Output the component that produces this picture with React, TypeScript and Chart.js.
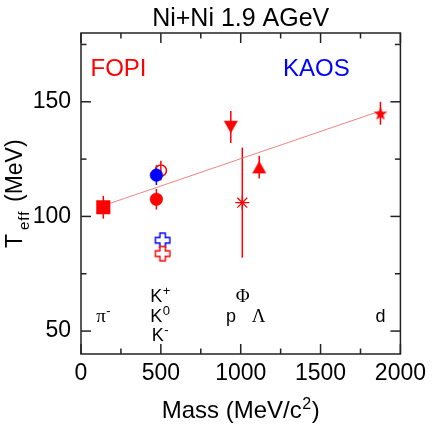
import { useEffect, useRef } from 'react';
import { Chart, registerables } from 'chart.js';

Chart.register(...registerables);

const FONT = "'Liberation Sans', Arial, Helvetica, sans-serif";
const SERIF = "'Liberation Serif', 'DejaVu Serif', serif";

// axis ticks
const xMajorTicks = [0, 500, 1000, 1500, 2000];
const xMinorTicks = [250, 750, 1250, 1750];
const yMajorTicks = [50, 100, 150];
const yMinorTicks = [75, 125, 175];

// FOPI
const piMass = [139.6];
const piT = [104];
const piErr = [5];
const kPlusFopiMass = [472];
const kPlusFopiT = [107.5];
const kPlusFopiErr = [4.5];
const k0FopiMass = [500];
const k0FopiT = [120];
const k0FopiErr = [4.3];
const kMinusFopiMass = [511];
const kMinusFopiT = [83.8];
const kMinusFopiErr = [3.4];
const protonMass = [938];
const protonT = [139];
const protonErr = [7];
const phiMass = [1010];
const phiT = [106];
const phiErr = [24];
const lambdaMass = [1116];
const lambdaT = [121.5];
const lambdaErr = [5];
const deuteronMass = [1875];
const deuteronT = [145];
const deuteronErr = [5];
// KAOS
const kPlusKaosMass = [472];
const kPlusKaosT = [118];
const kPlusKaosErr = [4.3];
const kMinusKaosMass = [511];
const kMinusKaosT = [89.6];
const kMinusKaosErr = [2];
// linear fit
const fitMass = [140, 1875];
const fitT = [104.7, 146];

// particle labels
const labelNames = ['π', 'K', 'K', 'K', 'Φ', 'p', 'Λ', 'd'];
const labelSups = ['-', '+', '0', '-', '', '', '', ''];
const labelGreek = [true, false, false, false, true, false, true, false];
const labelMass = [140, 496, 496, 496, 1012, 940, 1112, 1876];
const labelBaseT = [54.1, 62.8, 54.1, 45.5, 62.8, 54.1, 54.1, 54.1];

const RED = '#ff0000';
const BLUE = '#0000ff';

function pts(xs: number[], ys: number[]) {
  return xs.map((x, i) => ({ x, y: ys[i] }));
}

function makeCanvas(w: number, h: number, draw: (c: CanvasRenderingContext2D) => void) {
  const c = document.createElement('canvas');
  c.width = w;
  c.height = h;
  const ctx = c.getContext('2d')!;
  draw(ctx);
  return c;
}

function plusOutline(color: string) {
  return makeCanvas(18, 18, (ctx) => {
    const c = 9, a = 2.7, L = 7.3;
    ctx.beginPath();
    ctx.moveTo(c - a, c - L);
    ctx.lineTo(c + a, c - L);
    ctx.lineTo(c + a, c - a);
    ctx.lineTo(c + L, c - a);
    ctx.lineTo(c + L, c + a);
    ctx.lineTo(c + a, c + a);
    ctx.lineTo(c + a, c + L);
    ctx.lineTo(c - a, c + L);
    ctx.lineTo(c - a, c + a);
    ctx.lineTo(c - L, c + a);
    ctx.lineTo(c - L, c - a);
    ctx.lineTo(c - a, c - a);
    ctx.closePath();
    ctx.fillStyle = '#ffffff';
    ctx.fill();
    ctx.strokeStyle = color;
    ctx.lineWidth = 1.4;
    ctx.stroke();
  });
}

function triangle(color: string, down: boolean) {
  return makeCanvas(16, 14, (ctx) => {
    ctx.beginPath();
    if (down) {
      ctx.moveTo(1, 0.7);
      ctx.lineTo(15, 0.7);
      ctx.lineTo(8, 13.3);
    } else {
      ctx.moveTo(8, 0.7);
      ctx.lineTo(15, 13.3);
      ctx.lineTo(1, 13.3);
    }
    ctx.closePath();
    ctx.fillStyle = color;
    ctx.fill();
  });
}

function star5(color: string) {
  return makeCanvas(16, 16, (ctx) => {
    const cx = 8, cy = 8.8, R = 7.2, r = 2.9;
    ctx.beginPath();
    for (let i = 0; i < 10; i++) {
      const ang = -Math.PI / 2 + (i * Math.PI) / 5;
      const rad = i % 2 === 0 ? R : r;
      const px = cx + Math.cos(ang) * rad;
      const py = cy + Math.sin(ang) * rad;
      if (i === 0) ctx.moveTo(px, py);
      else ctx.lineTo(px, py);
    }
    ctx.closePath();
    ctx.fillStyle = color;
    ctx.fill();
  });
}

const overlayPlugin = {
  id: 'overlay',
  beforeDatasetsDraw(chart: any) {
    const ctx = chart.ctx as CanvasRenderingContext2D;
    const xs = chart.scales.x;
    const ys = chart.scales.y;
    ctx.save();
    chart.data.datasets.forEach((ds: any) => {
      if (!ds.errors) return;
      ds.data.forEach((p: any, i: number) => {
        const e = ds.errors[i];
        const px = xs.getPixelForValue(p.x);
        ctx.beginPath();
        ctx.moveTo(px, ys.getPixelForValue(p.y - e));
        ctx.lineTo(px, ys.getPixelForValue(p.y + e));
        ctx.strokeStyle = ds.errColor;
        ctx.lineWidth = 1.5;
        ctx.stroke();
      });
    });
    ctx.restore();
  },
  afterDraw(chart: any) {
    const ctx = chart.ctx as CanvasRenderingContext2D;
    const { left, right, top, bottom } = chart.chartArea;
    const xs = chart.scales.x;
    const ys = chart.scales.y;
    ctx.save();
    // frame
    ctx.strokeStyle = '#222';
    ctx.lineWidth = 1.5;
    ctx.strokeRect(left, top, right - left, bottom - top);
    // ticks
    const tick = (x1: number, y1: number, x2: number, y2: number) => {
      ctx.beginPath();
      ctx.moveTo(x1, y1);
      ctx.lineTo(x2, y2);
      ctx.stroke();
    };
    const MAJ = 10, MIN = 5.5;
    xMajorTicks.forEach((v) => {
      const p = xs.getPixelForValue(v);
      tick(p, bottom, p, bottom - MAJ);
      tick(p, top, p, top + MAJ);
    });
    xMinorTicks.forEach((v) => {
      const p = xs.getPixelForValue(v);
      tick(p, bottom, p, bottom - MIN);
      tick(p, top, p, top + MIN);
    });
    yMajorTicks.forEach((v) => {
      const p = ys.getPixelForValue(v);
      tick(left, p, left + MAJ, p);
      tick(right, p, right - MAJ, p);
    });
    yMinorTicks.forEach((v) => {
      const p = ys.getPixelForValue(v);
      tick(left, p, left + MIN, p);
      tick(right, p, right - MIN, p);
    });

    ctx.fillStyle = '#000';
    ctx.textBaseline = 'alphabetic';
    // title
    ctx.font = `25px ${FONT}`;
    ctx.textAlign = 'center';
    ctx.fillText('Ni+Ni 1.9 AGeV', (left + right) / 2, 26);

    // experiment labels
    ctx.textAlign = 'left';
    ctx.font = `24px ${FONT}`;
    ctx.fillStyle = RED;
    ctx.fillText('FOPI', left + 9.5, 76);
    ctx.fillStyle = BLUE;
    ctx.fillText('KAOS', left + 202, 76);

    // x title
    ctx.fillStyle = '#000';
    const mainPart = 'Mass (MeV/c';
    ctx.font = `24px ${FONT}`;
    const w1 = ctx.measureText(mainPart).width;
    const w3 = ctx.measureText(')').width;
    ctx.font = `16px ${FONT}`;
    const w2 = ctx.measureText('2').width;
    const total = w1 + w2 + w3 + 1;
    const sx = (left + right) / 2 - total / 2;
    ctx.font = `24px ${FONT}`;
    ctx.fillText(mainPart, sx, 418);
    ctx.font = `16px ${FONT}`;
    ctx.fillText('2', sx + w1 + 0.5, 408.5);
    ctx.font = `24px ${FONT}`;
    ctx.fillText(')', sx + w1 + w2 + 1, 418);

    // y title
    ctx.save();
    ctx.translate(21.7, 248);
    ctx.rotate(-Math.PI / 2);
    ctx.font = `23px ${FONT}`;
    ctx.fillText('T', 0, 0);
    ctx.font = `15px ${FONT}`;
    (ctx as any).letterSpacing = '1px';
    ctx.fillText('eff', 18, 7.5);
    (ctx as any).letterSpacing = '0px';
    ctx.font = `23px ${FONT}`;
    ctx.fillText('(MeV)', 46, 0);
    ctx.restore();

    // particle labels
    labelNames.forEach((name, i) => {
      const mainFont = labelGreek[i] ? `19px ${SERIF}` : `18px ${FONT}`;
      const supFont = `13px ${FONT}`;
      ctx.font = mainFont;
      const mw = ctx.measureText(name).width;
      ctx.font = supFont;
      const sw = labelSups[i] ? ctx.measureText(labelSups[i]).width + 0.5 : 0;
      const cx = xs.getPixelForValue(labelMass[i]);
      const by = ys.getPixelForValue(labelBaseT[i]);
      const x0 = cx - (mw + sw) / 2;
      ctx.font = mainFont;
      ctx.fillText(name, x0, by);
      if (labelSups[i]) {
        ctx.font = supFont;
        ctx.fillText(labelSups[i], x0 + mw + 0.5, by - 7);
      }
    });
    ctx.restore();
  },
};

export default function App() {
  const ref = useRef<HTMLCanvasElement | null>(null);
  useEffect(() => {
    if (!ref.current) return;
    Chart.defaults.font.family = FONT;
    const chart = new Chart(ref.current, {
      type: 'scatter',
      data: {
        datasets: [
          {
            label: 'K+ KAOS',
            data: pts(kPlusKaosMass, kPlusKaosT),
            errors: kPlusKaosErr,
            errColor: BLUE,
            pointStyle: 'circle',
            pointRadius: 6.3,
            backgroundColor: BLUE,
            borderColor: BLUE,
            borderWidth: 0.5,
          } as any,
          {
            label: 'K0 FOPI',
            data: pts(k0FopiMass, k0FopiT),
            errors: k0FopiErr,
            errColor: RED,
            pointStyle: 'circle',
            pointRadius: 5.6,
            backgroundColor: 'rgba(255,255,255,0)',
            borderColor: RED,
            borderWidth: 1.5,
          } as any,
          {
            label: 'K+ FOPI',
            data: pts(kPlusFopiMass, kPlusFopiT),
            errors: kPlusFopiErr,
            errColor: RED,
            pointStyle: 'circle',
            pointRadius: 6.3,
            backgroundColor: RED,
            borderColor: RED,
            borderWidth: 0.5,
          } as any,
          {
            label: 'K- FOPI',
            data: pts(kMinusFopiMass, kMinusFopiT),
            errors: kMinusFopiErr,
            errColor: RED,
            pointStyle: plusOutline(RED),
            pointRadius: 7,
          } as any,
          {
            label: 'K- KAOS',
            data: pts(kMinusKaosMass, kMinusKaosT),
            errors: kMinusKaosErr,
            errColor: BLUE,
            pointStyle: plusOutline(BLUE),
            pointRadius: 7,
          } as any,
          {
            label: 'pi-',
            data: pts(piMass, piT),
            errors: piErr,
            errColor: RED,
            pointStyle: 'rect',
            pointRadius: 9.6,
            backgroundColor: RED,
            borderColor: RED,
            borderWidth: 0.5,
          } as any,
          {
            label: 'p',
            data: pts(protonMass, protonT),
            errors: protonErr,
            errColor: RED,
            pointStyle: triangle(RED, true),
            pointRadius: 7,
          } as any,
          {
            label: 'phi',
            data: pts(phiMass, phiT),
            errors: phiErr,
            errColor: RED,
            pointStyle: 'star',
            pointRadius: 7,
            borderColor: RED,
            borderWidth: 1.3,
          } as any,
          {
            label: 'Lambda',
            data: pts(lambdaMass, lambdaT),
            errors: lambdaErr,
            errColor: RED,
            pointStyle: triangle(RED, false),
            pointRadius: 7,
          } as any,
          {
            label: 'd',
            data: pts(deuteronMass, deuteronT),
            errors: deuteronErr,
            errColor: RED,
            pointStyle: star5(RED),
            pointRadius: 7,
          } as any,
          {
            type: 'line',
            label: 'fit',
            data: pts(fitMass, fitT),
            borderColor: 'rgba(235,110,110,0.85)',
            borderWidth: 1,
            pointRadius: 0,
            showLine: true,
            fill: false,
            order: 5,
          } as any,
        ],
      },
      options: {
        animation: false,
        responsive: false,
        maintainAspectRatio: false,
        layout: { padding: { left: 0, right: 29, top: 33, bottom: 0 } },
        plugins: {
          legend: { display: false },
          tooltip: { enabled: false },
          title: { display: false },
        },
        scales: {
          x: {
            type: 'linear',
            min: 0,
            max: 2000,
            grid: { display: false, drawTicks: false },
            border: { display: false },
            afterBuildTicks: (s: any) => {
              s.ticks = xMajorTicks.map((v) => ({ value: v }));
            },
            afterFit: (s: any) => {
              s.height = 70;
            },
            ticks: {
              font: { family: FONT, size: 23 },
              color: '#000',
              padding: 6,
              maxRotation: 0,
              autoSkip: false,
              callback: (v: any) => String(v),
            },
          },
          y: {
            type: 'linear',
            min: 40,
            max: 180,
            grid: { display: false, drawTicks: false },
            border: { display: false },
            afterBuildTicks: (s: any) => {
              s.ticks = yMajorTicks.map((v) => ({ value: v }));
            },
            afterFit: (s: any) => {
              s.width = 81;
            },
            ticks: {
              font: { family: FONT, size: 23 },
              color: '#000',
              padding: 10,
              autoSkip: false,
              callback: (v: any) => String(v),
            },
          },
        },
      },
      plugins: [overlayPlugin],
    } as any);
    return () => chart.destroy();
  }, []);
  return (
    <div style={{ position: 'absolute', left: 0, top: 0, width: 432, height: 424, background: '#fff' }}>
      <canvas ref={ref} width={432} height={424} style={{ width: 432, height: 424, display: 'block' }} />
    </div>
  );
}
